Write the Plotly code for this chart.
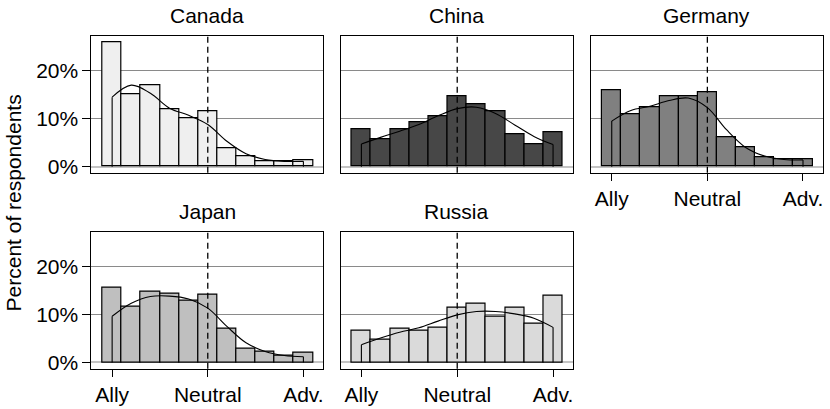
import plotly.graph_objects as go

# ---- data ----
scale_points = list(range(11))          # 0 = Ally, 5 = Neutral, 10 = Adversary
tick_vals = [0, 5, 10]
tick_text = ["Ally", "Neutral", "Adv."]
pct_vals = [0, 10, 20]
pct_text = ["0%", "10%", "20%"]

countries = ["Canada", "China", "Germany", "Japan", "Russia"]

canada_pct = [25.9, 15.0, 16.9, 12.0, 10.0, 11.5, 3.8, 2.1, 1.2, 1.1, 1.4]
china_pct = [7.9, 5.8, 7.7, 9.2, 10.6, 14.7, 13.1, 11.6, 6.7, 4.6, 7.2]
germany_pct = [15.9, 11.0, 12.4, 14.75, 14.75, 15.5, 6.2, 4.0, 2.0, 1.5, 1.6]
japan_pct = [15.6, 11.6, 14.8, 14.4, 12.9, 14.1, 7.0, 2.8, 2.2, 1.45, 2.0]
russia_pct = [6.6, 4.7, 7.0, 6.6, 7.3, 11.4, 12.2, 9.5, 11.4, 8.1, 13.9]

canada_kde = [14.5, 17.0, 15.3, 12.2, 10.7, 8.8, 5.3, 2.7, 1.5, 1.1, 1.1]
china_kde = [4.7, 6.1, 7.4, 8.8, 10.6, 12.1, 12.4, 11.1, 8.7, 6.3, 4.6]
germany_kde = [9.5, 11.7, 12.6, 13.8, 14.3, 12.3, 7.7, 4.0, 2.2, 1.5, 1.4]
japan_kde = [9.6, 12.3, 13.7, 13.8, 13.2, 11.3, 7.5, 4.1, 2.3, 1.45, 1.2]
russia_kde = [3.7, 5.1, 6.3, 7.2, 8.6, 9.9, 10.6, 10.6, 10.1, 9.2, 7.3]

bars = [canada_pct, china_pct, germany_pct, japan_pct, russia_pct]
kdes = [canada_kde, china_kde, germany_kde, japan_kde, russia_kde]
fills = ["#efefef", "#474747", "#808080", "#bfbfbf", "#dadada"]

# ---- layout geometry ----
W, H = 830, 409
col_px = [(91.5, 323.3), (341.0, 573.3), (591.7, 823.5)]
row_px = [(36.7, 175.0), (234.5, 373.3)]
positions = [(0, 0), (0, 1), (0, 2), (1, 0), (1, 1)]   # (row, col)

FONT = "Liberation Sans, Arial, Helvetica, sans-serif"
FS = 21

fig = go.Figure()
layout = dict(
    width=W, height=H, margin=dict(l=0, r=0, t=0, b=0),
    plot_bgcolor="white", paper_bgcolor="white",
    showlegend=False, bargap=0,
    font=dict(family=FONT, size=FS, color="black"),
)
annotations = []
shapes = []

for i, name in enumerate(countries):
    r, c = positions[i]
    n = "" if i == 0 else str(i + 1)
    xa, ya = "x" + n, "y" + n
    xd = [col_px[c][0] / W, col_px[c][1] / W]
    yd = [1 - row_px[r][1] / H, 1 - row_px[r][0] / H]

    fig.add_trace(go.Bar(
        x=scale_points, y=bars[i], width=1,
        marker=dict(color=fills[i], line=dict(color="black", width=1.2)),
        xaxis=xa, yaxis=ya, hoverinfo="skip"))
    fig.add_trace(go.Scatter(
        x=scale_points, y=kdes[i], mode="lines",
        line=dict(color="black", width=1.1, shape="spline", smoothing=1.0),
        xaxis=xa, yaxis=ya, hoverinfo="skip"))
    fig.add_trace(go.Scatter(
        x=[scale_points[0], scale_points[0], None, scale_points[-1], scale_points[-1]],
        y=[0, kdes[i][0], None, kdes[i][-1], 0], mode="lines",
        line=dict(color="black", width=1.1),
        xaxis=xa, yaxis=ya, hoverinfo="skip"))

    show_x = (r == 1) or (c == 2)
    show_y = (c == 0)
    layout["xaxis" + n] = dict(
        domain=xd, anchor=ya, range=[-1.085, 11.02],
        showgrid=False, zeroline=False,
        showline=True, mirror=True, linecolor="black", linewidth=1,
        tickmode="array", tickvals=tick_vals, ticktext=tick_text,
        ticks="outside" if show_x else "", ticklen=7, tickcolor="black",
        showticklabels=show_x, tickfont=dict(size=FS, family=FONT))
    layout["yaxis" + n] = dict(
        domain=yd, anchor=xa, range=[-1.3, 27.2],
        showgrid=True, gridcolor="#8a8a8a", gridwidth=1,
        zeroline=True, zerolinecolor="#c4c4c4", zerolinewidth=2,
        showline=True, mirror=True, linecolor="black", linewidth=1,
        tickmode="array", tickvals=pct_vals, ticktext=pct_text,
        ticks="outside" if show_y else "", ticklen=8, tickcolor="black",
        showticklabels=show_y, tickfont=dict(size=FS, family=FONT))

    annotations.append(dict(
        text=name, xref="paper", yref="paper",
        x=(xd[0] + xd[1]) / 2, y=yd[1], xanchor="center", yanchor="bottom",
        yshift=7, showarrow=False, font=dict(size=FS, family=FONT)))
    shapes.append(dict(
        type="line", xref=xa, yref=ya + " domain", x0=5, x1=5, y0=0, y1=1,
        line=dict(color="black", width=1.3, dash="6px,4px"), layer="above"))

annotations.append(dict(
    text="Percent of respondents", xref="paper", yref="paper",
    x=14 / W, y=1 - 205 / H, xanchor="center", yanchor="middle",
    textangle=-90, showarrow=False, font=dict(size=FS, family=FONT)))

layout["annotations"] = annotations
layout["shapes"] = shapes
fig.update_layout(**layout)
fig.write_html(
    "out.html",
    config={"displayModeBar": False},
    post_script="document.body.style.margin='0';document.body.style.overflow='hidden';",
)
